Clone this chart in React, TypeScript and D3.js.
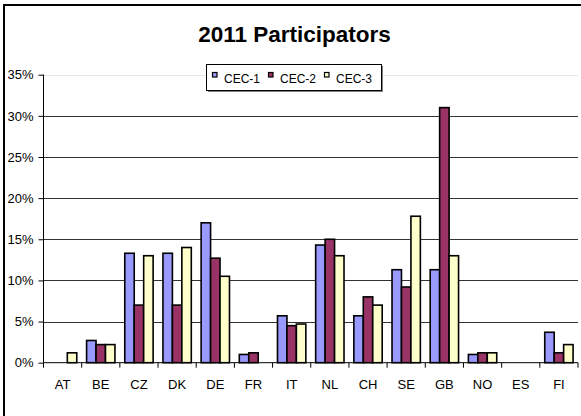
import React, { useRef, useEffect } from 'react';
import * as d3 from 'd3';

const countries = ['AT', 'BE', 'CZ', 'DK', 'DE', 'FR', 'IT', 'NL', 'CH', 'SE', 'GB', 'NO', 'ES', 'FI'];
const seriesNames = ['CEC-1', 'CEC-2', 'CEC-3'];
const cec1 = [0, 2.7, 13.3, 13.3, 17.0, 1.0, 5.7, 14.3, 5.7, 11.3, 11.3, 1.0, 0, 3.7];
const cec2 = [0, 2.2, 7.0, 7.0, 12.7, 1.2, 4.5, 15.0, 8.0, 9.2, 31.0, 1.2, 0, 1.2];
const cec3 = [1.2, 2.2, 13.0, 14.0, 10.5, 0, 4.7, 13.0, 7.0, 17.8, 13.0, 1.2, 0, 2.2];
const yTicks = [0, 5, 10, 15, 20, 25, 30, 35];
const colors = ['#9999FF', '#993366', '#FFFFCC'];

export default function App() {
  const svgRef = useRef<SVGSVGElement>(null);

  useEffect(() => {
    const svg = d3.select(svgRef.current);
    svg.selectAll('*').remove();

    const width = 581;
    const height = 416;
    const left = 43.5, right = 578, top = 74.7, bottom = 362.7;
    const font = 'Arial, "Liberation Sans", sans-serif';

    svg.attr('width', width).attr('height', height);

    // Outer frame: only the left and top edges fall inside the picture
    svg.append('path')
      .attr('d', `M4,${height}V5H${width}`)
      .attr('fill', 'none')
      .attr('stroke', 'black')
      .attr('stroke-width', 2);

    const x0 = d3.scaleBand().domain(countries).range([left, right]);
    const x1 = d3.scaleBand().domain(seriesNames)
      .range([0, x0.bandwidth()])
      .paddingInner(0)
      .paddingOuter(0.52);
    const y = d3.scaleLinear().domain([0, 35]).range([bottom, top]);

    // Title
    svg.append('text')
      .attr('x', 294.5).attr('y', 42.3)
      .attr('text-anchor', 'middle')
      .style('font-family', font)
      .style('font-size', '22.5px')
      .style('font-weight', 'bold')
      .text('2011 Participators');

    // Gridlines
    svg.append('g')
      .selectAll('line')
      .data(yTicks.filter(t => t > 0))
      .enter()
      .append('line')
      .attr('x1', left).attr('x2', right)
      .attr('y1', d => Math.round(y(d)) + 0.5)
      .attr('y2', d => Math.round(y(d)) + 0.5)
      .attr('stroke', d => (d === 35 ? '#e6e6e6' : '#333'))
      .attr('stroke-width', 1);

    // Bars
    const series = [cec1, cec2, cec3];
    const rows = [];
    countries.forEach((c, i) => {
      seriesNames.forEach((s, j) => {
        rows.push({ country: c, name: s, value: series[j][i], color: colors[j] });
      });
    });

    svg.append('g')
      .selectAll('rect')
      .data(rows.filter(d => d.value > 0))
      .enter()
      .append('rect')
      .attr('x', d => x0(d.country) + x1(d.name))
      .attr('y', d => y(d.value))
      .attr('width', x1.bandwidth())
      .attr('height', d => bottom - y(d.value))
      .attr('fill', d => d.color)
      .attr('stroke', 'black')
      .attr('stroke-width', 1.6);

    // Y axis
    const yAxis = svg.append('g')
      .attr('transform', `translate(${left}, 0)`)
      .call(d3.axisLeft(y).tickValues(yTicks).tickSize(5).tickPadding(5).tickFormat(d => `${d}%`));
    yAxis.select('.domain').attr('stroke', 'black').attr('d', `M0,${top}V${bottom}`);
    yAxis.selectAll('text').style('font-family', font).style('font-size', '13px').attr('fill', 'black');

    // X axis
    const xAxis = svg.append('g')
      .attr('transform', `translate(0, ${bottom})`)
      .call(d3.axisBottom(x0).tickSize(0).tickPadding(17));
    xAxis.select('.domain').attr('stroke', 'black').attr('d', `M${left},0H${right}`);
    xAxis.selectAll('text').style('font-family', font).style('font-size', '13px').attr('fill', 'black');

    // Ticks at category boundaries
    svg.append('g')
      .selectAll('line')
      .data(countries.map((c, i) => i).concat([countries.length]))
      .enter()
      .append('line')
      .attr('x1', i => left + i * x0.step())
      .attr('x2', i => left + i * x0.step())
      .attr('y1', bottom)
      .attr('y2', bottom + 5)
      .attr('stroke', 'black');

    // Legend
    const legend = svg.append('g');
    legend.append('rect')
      .attr('x', 208).attr('y', 66)
      .attr('width', 175).attr('height', 26)
      .attr('fill', '#808080');
    legend.append('rect')
      .attr('x', 206.5).attr('y', 64.5)
      .attr('width', 175).attr('height', 26)
      .attr('fill', 'white')
      .attr('stroke', 'black');

    const legendX = [212.5, 268.5, 324.5];
    seriesNames.forEach((s, j) => {
      legend.append('rect')
        .attr('x', legendX[j]).attr('y', 72.5)
        .attr('width', 4.5).attr('height', 4.5)
        .attr('fill', colors[j])
        .attr('stroke', 'black')
        .attr('stroke-width', 1.2);
      legend.append('text')
        .attr('x', legendX[j] + 11.5).attr('y', 82.5)
        .style('font-family', font)
        .style('font-size', '12px')
        .text(s);
    });
  }, []);

  return (
    <svg
      ref={svgRef}
      style={{ position: 'absolute', left: 0, top: 0, background: 'white' }}
    ></svg>
  );
}
